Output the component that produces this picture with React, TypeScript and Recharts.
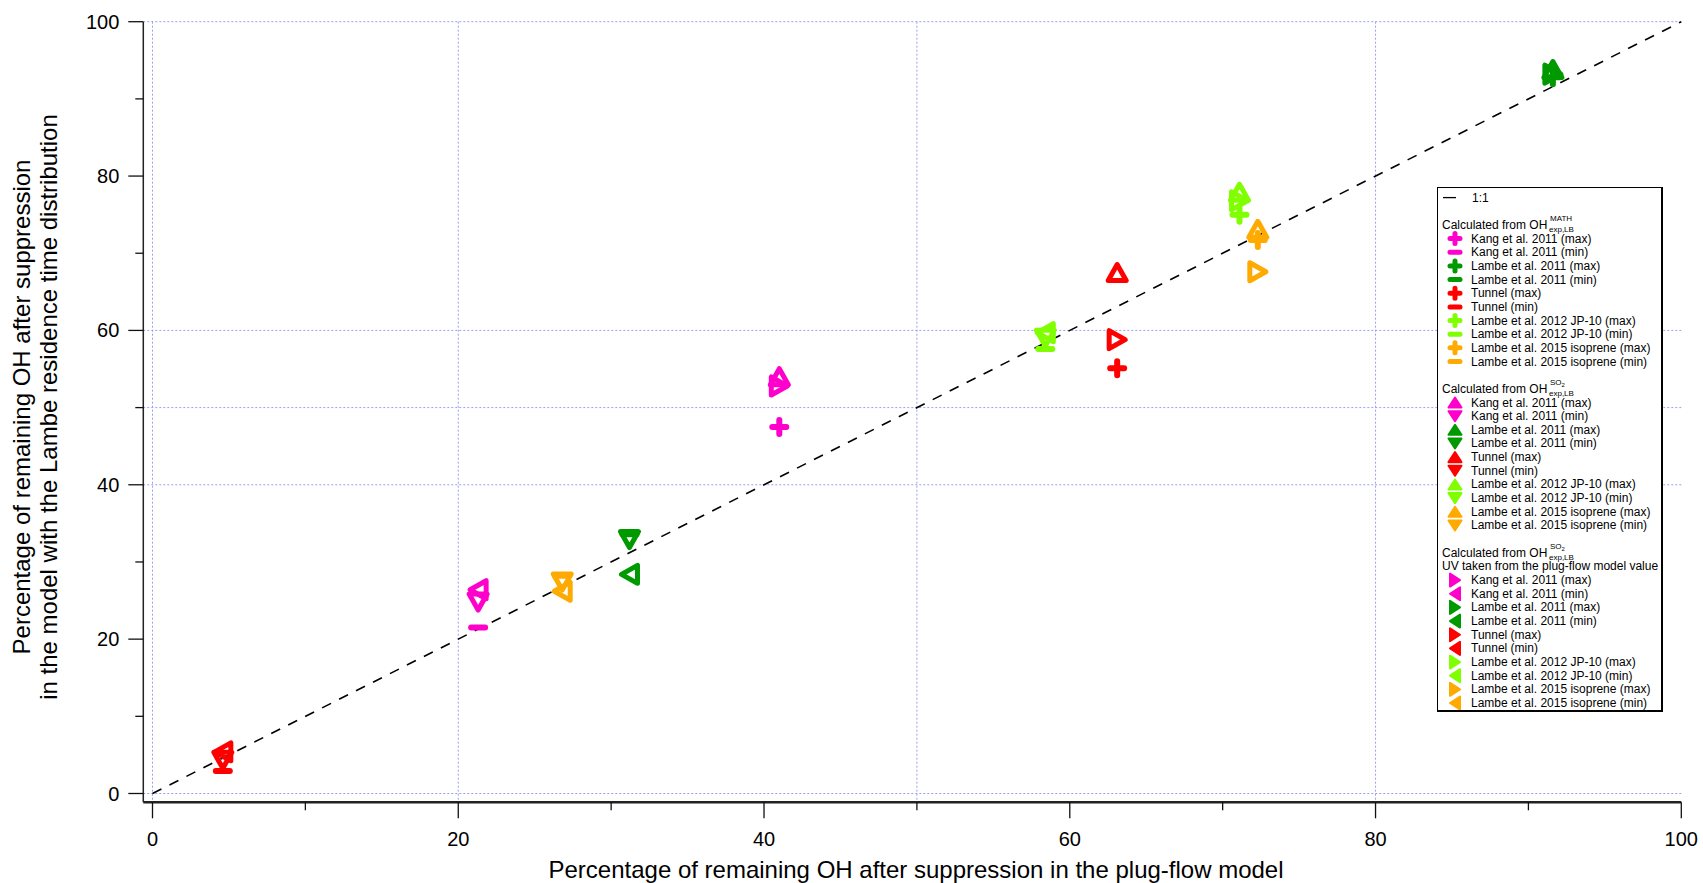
import {
  ScatterChart,
  Scatter,
  XAxis,
  YAxis,
  CartesianGrid,
  ReferenceLine,
  Legend,
} from "recharts";

const sources = [
  "Kang et al. 2011",
  "Lambe et al. 2011",
  "Tunnel",
  "Lambe et al. 2012 JP-10",
  "Lambe et al. 2015 isoprene",
];
const sourceColors = ["#ff00cc", "#009900", "#ff0000", "#80ff00", "#ffaa00"];

// x: % remaining OH in the plug-flow model (max / min case)
const plugFlowMax = [41.0, 91.6, 63.1, 71.1, 72.3];
const plugFlowMin = [21.3, 31.2, 4.6, 58.4, 26.8];

// y: % remaining OH with the Lambe residence time distribution
const mathMax = [47.5, 92.8, 55.1, 75.0, 71.7];
const mathMin = [21.5, 33.6, 2.9, 57.6, 28.2];
const so2Max = [54.0, 93.8, 67.5, 77.9, 73.1];
const so2Min = [24.8, 32.9, 4.3, 59.0, 27.4];
const uvMax = [52.8, 93.2, 58.8, 76.8, 67.6];
const uvMin = [26.4, 28.4, 5.4, 59.7, 26.2];

const axisTicks = [0, 10, 20, 30, 40, 50, 60, 70, 80, 90, 100];
const gridX = [0, 20, 50, 80];
const gridY = [0, 40, 50, 60, 100];
const oneToOne = [
  { x: 0, y: 0 },
  { x: 100, y: 100 },
];

const methods = [
  { key: "math", maxY: mathMax, minY: mathMin, maxMark: "plus", minMark: "minus" },
  { key: "so2", maxY: so2Max, minY: so2Min, maxMark: "up", minMark: "down" },
  { key: "uv", maxY: uvMax, minY: uvMin, maxMark: "right", minMark: "left" },
];

const series = methods.flatMap((m) =>
  sources.flatMap((name, i) => [
    {
      id: `${m.key}-${i}-max`,
      name: `${name} (max)`,
      color: sourceColors[i],
      mark: m.maxMark,
      data: [{ x: plugFlowMax[i], y: m.maxY[i] }],
    },
    {
      id: `${m.key}-${i}-min`,
      name: `${name} (min)`,
      color: sourceColors[i],
      mark: m.minMark,
      data: [{ x: plugFlowMin[i], y: m.minY[i] }],
    },
  ])
);

// marker geometry around (0,0); w/h are half sizes
const markPath = (mark: string, w: number, h: number, arm: number) => {
  switch (mark) {
    case "plus":
      return `M${-arm},0H${arm}M0,${-arm}V${arm}`;
    case "minus":
      return `M${-arm},0H${arm}`;
    case "up":
      return `M0,${-h}L${w},${h}L${-w},${h}Z`;
    case "down":
      return `M0,${h}L${w},${-h}L${-w},${-h}Z`;
    case "right":
      return `M${h},0L${-h},${-w}L${-h},${w}Z`;
    default:
      return `M${-h},0L${h},${-w}L${h},${w}Z`;
  }
};

const isLine = (mark: string) => mark === "plus" || mark === "minus";

const plotShape = (mark: string, color: string) => (props: any) => {
  const { cx, cy } = props;
  if (cx == null || cy == null) return <g />;
  return (
    <path
      transform={`translate(${cx},${cy})`}
      d={markPath(mark, 9, 8, 7)}
      fill="none"
      stroke={color}
      strokeWidth={isLine(mark) ? 6 : 5}
      strokeLinejoin="round"
      strokeLinecap="round"
    />
  );
};

const XTick = (props: any) => {
  const { x, y, payload } = props;
  const major = payload.value % 20 === 0;
  return (
    <g>
      <line x1={x} y1={y} x2={x} y2={y + (major ? 16 : 8)} stroke="#111" strokeWidth={1.3} />
      {major && (
        <text x={x} y={y + 44} textAnchor="middle" fontSize={20} fill="#000">
          {payload.value}
        </text>
      )}
    </g>
  );
};

const YTick = (props: any) => {
  const { x, y, payload } = props;
  const major = payload.value % 20 === 0;
  return (
    <g>
      <line x1={x} y1={y} x2={x - (major ? 15 : 8)} y2={y} stroke="#111" strokeWidth={1.3} />
      {major && (
        <text x={x - 24} y={y + 7} textAnchor="end" fontSize={20} fill="#000">
          {payload.value}
        </text>
      )}
    </g>
  );
};

const ROW = 13.66;
const rowY = (r: number) => 9.6 + r * ROW;

const Header = ({ row, sup }: { row: number; sup: string }) => {
  const y = rowY(row) + 4;
  return (
    <g>
      <text x={4} y={y} fontSize={12}>
        Calculated from OH
      </text>
      {sup === "MATH" ? (
        <text x={112} y={y - 8} fontSize={8}>
          MATH
        </text>
      ) : (
        <text x={112} y={y - 8} fontSize={8}>
          SO
          <tspan fontSize={6} dy={2}>
            2
          </tspan>
        </text>
      )}
      <text x={111} y={y + 3} fontSize={8}>
        exp,LB
      </text>
    </g>
  );
};

const LegendBox = () => {
  const firstRows = [3, 15, 28];
  return (
    <div
      style={{
        width: 226,
        height: 525,
        border: "1px solid #000",
        borderRight: "2px solid #000",
        borderBottom: "2px solid #000",
        background: "#fff",
        boxSizing: "border-box",
      }}
    >
      <svg width={223} height={522} style={{ display: "block", fontFamily: "Liberation Sans, Arial, sans-serif" }}>
        <line x1={5} y1={rowY(0)} x2={18} y2={rowY(0)} stroke="#000" strokeWidth={1.3} />
        <text x={34} y={rowY(0) + 4} fontSize={12}>
          1:1
        </text>
        <Header row={2} sup="MATH" />
        <Header row={14} sup="SO2" />
        <Header row={26} sup="SO2" />
        <text x={4} y={rowY(27) + 4} fontSize={12}>
          UV taken from the plug-flow model value
        </text>
        {series.map((s, k) => {
          const group = Math.floor(k / 10);
          const y = rowY(firstRows[group] + (k % 10));
          return (
            <g key={s.id}>
              <path
                transform={`translate(17,${y})`}
                d={markPath(s.mark, 6.5, 5, 5)}
                fill={s.color}
                stroke={s.color}
                strokeWidth={isLine(s.mark) ? 5 : 2}
                strokeLinejoin="round"
                strokeLinecap="round"
              />
              <text x={33} y={y + 4} fontSize={12}>
                {s.name}
              </text>
            </g>
          );
        })}
      </svg>
    </div>
  );
};

const App = () => {
  return (
    <div style={{ position: "absolute", left: 0, top: 0 }}>
      <ScatterChart
        width={1703}
        height={883}
        margin={{ top: 21.7, right: 21.7, left: 0, bottom: 0.7 }}
        style={{ fontFamily: "Liberation Sans, Arial, sans-serif" }}
      >
        <CartesianGrid
          horizontalValues={gridY}
          verticalValues={gridX}
          stroke="#9c9cf0"
          strokeDasharray="2 2"
        />
        <XAxis
          type="number"
          dataKey="x"
          domain={[0, 100]}
          ticks={axisTicks}
          interval={0}
          padding={{ left: 9.2, right: 0 }}
          height={80}
          tickSize={0}
          tickMargin={0}
          tickLine={false}
          tick={<XTick />}
          axisLine={{ stroke: "#222", strokeWidth: 2.5 }}
          label={{
            content: () => (
              <text x={916} y={878} textAnchor="middle" fontSize={24} fill="#000">
                Percentage of remaining OH after suppression in the plug-flow model
              </text>
            ),
          }}
        />
        <YAxis
          type="number"
          dataKey="y"
          domain={[0, 100]}
          ticks={axisTicks}
          interval={0}
          padding={{ top: 0, bottom: 8.8 }}
          width={143.3}
          tickSize={0}
          tickMargin={0}
          tickLine={false}
          tick={<YTick />}
          axisLine={{ stroke: "#222", strokeWidth: 1.5 }}
          label={{
            content: () => (
              <g>
                <text transform="translate(22,407) rotate(-90)" textAnchor="middle" dy="0.35em" fontSize={24} fill="#000">
                  Percentage of remaining OH after suppression
                </text>
                <text transform="translate(49,407) rotate(-90)" textAnchor="middle" dy="0.35em" fontSize={24} fill="#000">
                  in the model with the Lambe residence time distribution
                </text>
              </g>
            ),
          }}
        />
        <ReferenceLine
          segment={oneToOne}
          stroke="#000"
          strokeWidth={1.6}
          strokeDasharray="10 9"
        />
        {series.map((s) => (
          <Scatter
            key={s.id}
            name={s.name}
            data={s.data}
            fill={s.color}
            shape={plotShape(s.mark, s.color)}
            isAnimationActive={false}
          />
        ))}
        <Legend
          layout="vertical"
          align="center"
          verticalAlign="middle"
          wrapperStyle={{ left: 1437, top: 187, width: 226, height: 525 }}
          content={() => <LegendBox />}
        />
      </ScatterChart>
    </div>
  );
};

export default App;
